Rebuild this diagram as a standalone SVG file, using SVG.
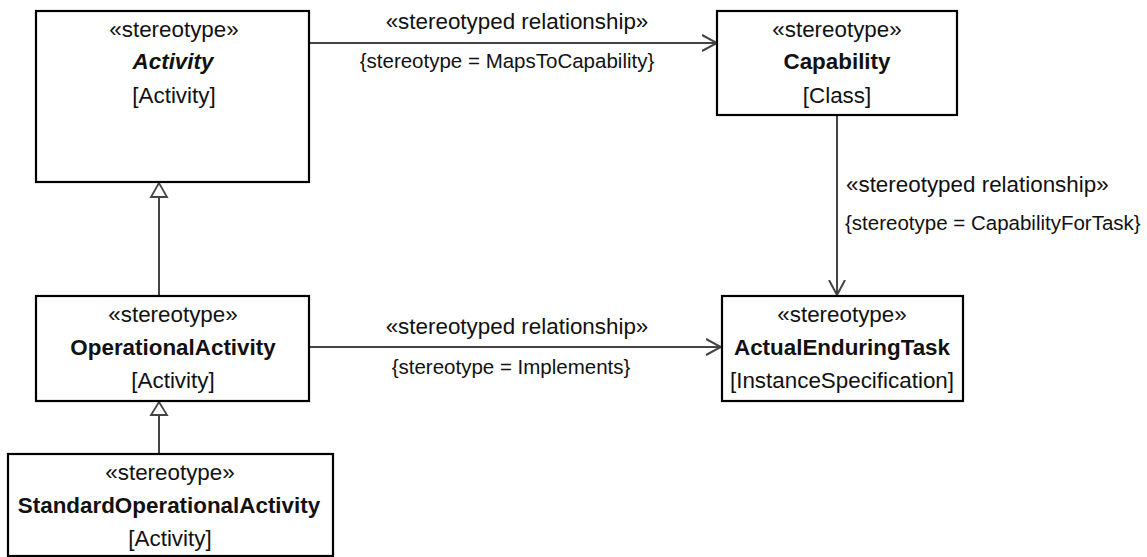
<svg xmlns="http://www.w3.org/2000/svg" width="1147" height="557" viewBox="0 0 1147 557">
<style>
.box{fill:#fff;stroke:#000;stroke-width:2.2}
.t{font-family:"Liberation Sans",Arial,sans-serif;font-size:22.4px;fill:#111;text-anchor:middle}
.s{text-anchor:start}
.b{font-weight:bold}
.i{font-style:italic}
.c{font-family:"Liberation Sans",Arial,sans-serif;font-size:20.5px;fill:#111}
.m{text-anchor:middle}
.ln{stroke:#444;stroke-width:2;fill:none}
.gen{fill:#fff;stroke:#444;stroke-width:1.8}
</style>
<defs>
<marker id="open" viewBox="0 0 16 18" refX="15" refY="9" markerWidth="16" markerHeight="18" markerUnits="userSpaceOnUse" orient="auto">
<path d="M0,1 L15,9 L0,17" fill="none" stroke="#444" stroke-width="2"/>
</marker>
</defs>
<g id="connectors">
<line class="ln" x1="309" y1="43" x2="717" y2="43" marker-end="url(#open)"/>
<line class="ln" x1="837" y1="115" x2="837" y2="295" marker-end="url(#open)"/>
<line class="ln" x1="309" y1="347" x2="721" y2="347" marker-end="url(#open)"/>
<line class="ln" x1="159" y1="197" x2="159" y2="296"/>
<polygon class="gen" points="159,183 151,197 167,197"/>
<line class="ln" x1="159" y1="415" x2="159" y2="454"/>
<polygon class="gen" points="159,402 151,415 167,415"/>
<text class="t" x="517" y="29">«stereotyped relationship»</text>
<text class="c m" x="507" y="68">{stereotype = MapsToCapability}</text>
<text class="t s" x="846" y="192">«stereotyped relationship»</text>
<text class="c" x="845" y="230">{stereotype = CapabilityForTask}</text>
<text class="t" x="517" y="334">«stereotyped relationship»</text>
<text class="c m" x="511" y="374">{stereotype = Implements}</text>
</g>
<g id="activity">
<rect class="box" x="36" y="11" width="273" height="171"/>
<text class="t" x="174" y="37">«stereotype»</text>
<text class="t b i" x="173" y="69">Activity</text>
<text class="t" x="174" y="103">[Activity]</text>
</g>
<g id="capability">
<rect class="box" x="717" y="11" width="240" height="104"/>
<text class="t" x="837" y="37">«stereotype»</text>
<text class="t b" x="837" y="69">Capability</text>
<text class="t" x="837" y="103">[Class]</text>
</g>
<g id="operationalActivity">
<rect class="box" x="36" y="296" width="273" height="105"/>
<text class="t" x="173" y="322">«stereotype»</text>
<text class="t b" x="173" y="355">OperationalActivity</text>
<text class="t" x="173" y="388">[Activity]</text>
</g>
<g id="actualEnduringTask">
<rect class="box" x="722" y="296" width="241" height="105"/>
<text class="t" x="842" y="322">«stereotype»</text>
<text class="t b" x="842" y="355">ActualEnduringTask</text>
<text class="t" x="842" y="388">[InstanceSpecification]</text>
</g>
<g id="standardOperationalActivity">
<rect class="box" x="8" y="454" width="325" height="102"/>
<text class="t" x="170" y="480">«stereotype»</text>
<text class="t b" x="169" y="513">StandardOperationalActivity</text>
<text class="t" x="170" y="546">[Activity]</text>
</g>
</svg>
